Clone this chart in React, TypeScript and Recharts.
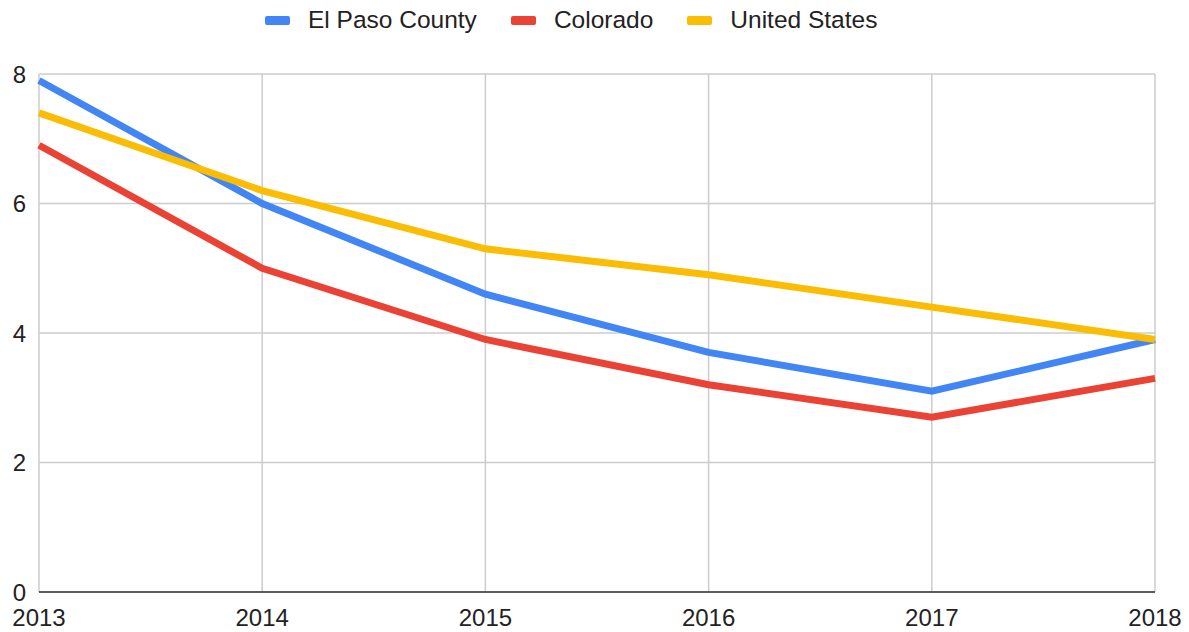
import React from 'react';
import { LineChart, Line, XAxis, YAxis, CartesianGrid } from 'recharts';

// Years on the x axis
const years = [2013, 2014, 2015, 2016, 2017, 2018];

// Series values
const elPasoCounty = [7.9, 6.0, 4.6, 3.7, 3.1, 3.9];
const colorado = [6.9, 5.0, 3.9, 3.2, 2.7, 3.3];
const unitedStates = [7.4, 6.2, 5.3, 4.9, 4.4, 3.9];

const yTicks = [0, 2, 4, 6, 8];

const series = [
  { key: 'elPaso', name: 'El Paso County', color: '#4285F4', values: elPasoCounty },
  { key: 'colorado', name: 'Colorado', color: '#EA4335', values: colorado },
  { key: 'us', name: 'United States', color: '#FBBC04', values: unitedStates },
];

const data = years.map((year, i) => ({
  year,
  elPaso: elPasoCounty[i],
  colorado: colorado[i],
  us: unitedStates[i],
}));

const FONT = '"Liberation Sans", Arial, sans-serif';

const LegendRow = () => (
  <div
    style={{
      position: 'absolute',
      top: 6,
      left: 265,
      display: 'flex',
      alignItems: 'center',
      height: 28,
      fontFamily: FONT,
      fontSize: 24.5,
      color: '#222',
      whiteSpace: 'nowrap',
    }}
  >
    {series.map((s, i) => (
      <div key={s.key} style={{ display: 'flex', alignItems: 'center', marginLeft: i === 0 ? 0 : 34 }}>
        <span style={{ width: 25, height: 9, borderRadius: 2, background: s.color, marginRight: 18 }} />
        <span>{s.name}</span>
      </div>
    ))}
  </div>
);

export default function App() {
  return (
    <div style={{ position: 'absolute', top: 0, left: 0, width: 1189, height: 632, background: '#fff' }}>
      <LegendRow />
      <LineChart
        width={1189}
        height={632}
        data={data}
        margin={{ top: 74, right: 34, left: 0, bottom: 0 }}
      >
        <CartesianGrid stroke="#cccccc" strokeWidth={1.5} />
        <XAxis
          dataKey="year"
          type="number"
          domain={[2013, 2018]}
          ticks={years}
          height={40}
          tickSize={0}
          tickMargin={17}
          axisLine={{ stroke: '#333', strokeWidth: 1.5 }}
          tick={{ fill: '#222', fontSize: 24, fontFamily: FONT }}
        />
        <YAxis
          domain={[0, 8]}
          ticks={yTicks}
          width={39}
          tickSize={0}
          tickMargin={13}
          axisLine={false}
          tickLine={false}
          tick={{ fill: '#222', fontSize: 24, fontFamily: FONT }}
        />
        {series.map((s) => (
          <Line
            key={s.key}
            type="linear"
            dataKey={s.key}
            name={s.name}
            stroke={s.color}
            strokeWidth={7}
            dot={false}
            activeDot={false}
            isAnimationActive={false}
          />
        ))}
      </LineChart>
    </div>
  );
}
